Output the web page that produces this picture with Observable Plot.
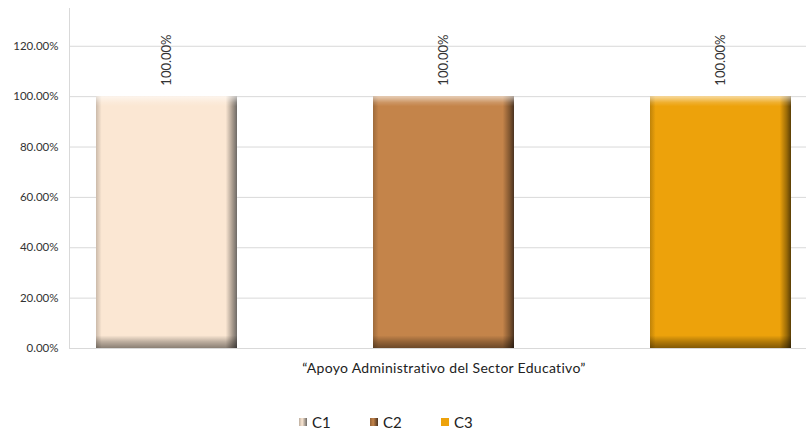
<!DOCTYPE html>
<html>
<head>
<meta charset="utf-8">
<script src="https://cdn.jsdelivr.net/npm/d3@7"></script>
<script src="https://cdn.jsdelivr.net/npm/@observablehq/plot@0.6"></script>
<style>
  body { margin: 0; background: #fff; font-family: Lato, "Open Sans", sans-serif; }
  #legend { display: flex; height: 20px; margin-top: 27px; align-items: center; padding-left: 299px; font-size: 15px; color: #222; }
  .item { display: flex; align-items: center; width: 71px; }
  .sw { width: 8px; height: 8px; margin-right: 5px; }
</style>
</head>
<body>
<div id="chart"></div>
<div id="legend"></div>
<script>
const categories = ["C1", "C2", "C3"];
const values = [1.0, 1.0, 1.0];
const colors = ["#FBE7D3", "#C4844A", "#EDA20B"];
const darkEdges = ["#6e6a66", "#4a3220", "#5a3e05"];
const yTicks = [0, 0.2, 0.4, 0.6, 0.8, 1.0, 1.2];
const xTitle = "“Apoyo Administrativo del Sector Educativo”";

const data = categories.map((c, i) => ({cat: c, val: values[i], i}));
const fmt = d3.format(".2%");

const svg = Plot.plot({
  width: 806,
  height: 385,
  marginLeft: 69,
  marginRight: 0,
  marginTop: 8,
  marginBottom: 37,
  style: {fontFamily: "Lato, 'Open Sans', sans-serif", background: "#fff"},
  x: {domain: categories, range: [-40, 928], padding: 0.49, axis: null},
  y: {domain: [0, 1.35]},
  marks: [
    Plot.ruleY(yTicks, {stroke: "#d9d9d9", strokeWidth: 1}),
    Plot.frame({anchor: "left", stroke: "#d9d9d9"}),
    Plot.axisY({ticks: yTicks, tickFormat: fmt, tickSize: 0, tickPadding: 11, fontSize: 11.5, fill: "#333", label: null}),
    Plot.barY(data, {x: "cat", y: "val", fill: d => `url(#hg${d.i})`}),
    Plot.barY(data, {x: "cat", y: "val", fill: "url(#vshade)"}),
    Plot.text(data, {x: "cat", y: "val", text: d => fmt(d.val), rotate: -90, textAnchor: "start", dx: 0, dy: -11, fontSize: 13, fill: "#333"}),
    Plot.text([xTitle], {frameAnchor: "bottom", dx: 6, dy: 20, lineAnchor: "middle", fontSize: 14, fill: "#222", style: "letter-spacing:0.3px"})
  ]
});

// gradient defs for bevel look
const ns = "http://www.w3.org/2000/svg";
const defs = document.createElementNS(ns, "defs");
function grad(id, x2, y2, stops) {
  const g = document.createElementNS(ns, "linearGradient");
  g.setAttribute("id", id);
  g.setAttribute("x1", "0"); g.setAttribute("y1", "0");
  g.setAttribute("x2", x2); g.setAttribute("y2", y2);
  for (const [off, col, op] of stops) {
    const s = document.createElementNS(ns, "stop");
    s.setAttribute("offset", off);
    s.setAttribute("stop-color", col);
    s.setAttribute("stop-opacity", op);
    g.appendChild(s);
  }
  defs.appendChild(g);
}
colors.forEach((c, i) => {
  const light = d3.color(c).darker(0.6).formatHex();
  grad(`hg${i}`, "1", "0", [
    ["0", light, 1], ["0.04", c, 1], ["0.92", c, 1], ["0.97", d3.color(c).darker(1.2).formatHex(), 1], ["1", darkEdges[i], 1]
  ]);
});
grad("vshade", "0", "1", [
  ["0", "#ffffff", 0.6], ["0.025", "#ffffff", 0.15], ["0.04", "#ffffff", 0], ["0.95", "#000000", 0], ["0.975", "#000000", 0.25], ["1", "#000000", 0.45]
]);
svg.insertBefore(defs, svg.firstChild);
// apply letter spacing to the x title
svg.querySelectorAll("text").forEach(t => { if (t.textContent === xTitle) t.setAttribute("letter-spacing", "0.3"); });
document.getElementById("chart").appendChild(svg);

// legend
const legend = document.getElementById("legend");
categories.forEach((c, i) => {
  const item = document.createElement("div");
  item.className = "item";
  const sw = document.createElement("div");
  sw.className = "sw";
  sw.style.background = i < 2
    ? `linear-gradient(90deg, ${d3.color(colors[i]).darker(0.8)} 0%, ${colors[i]} 40%, ${darkEdges[i]} 100%)`
    : colors[i];
  const lab = document.createElement("span");
  lab.textContent = c;
  item.appendChild(sw);
  item.appendChild(lab);
  legend.appendChild(item);
});
</script>
</body>
</html>
